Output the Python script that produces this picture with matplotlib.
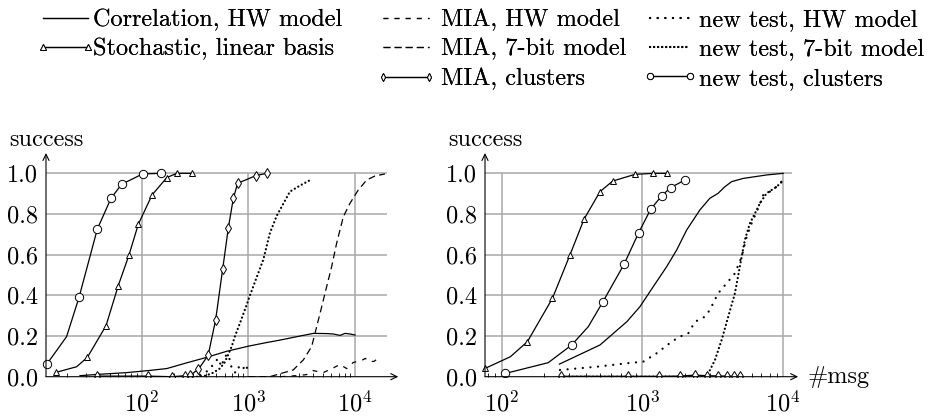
import numpy as np
import matplotlib
matplotlib.use('Agg')
import matplotlib.pyplot as plt
from matplotlib.lines import Line2D
from matplotlib.legend_handler import HandlerLine2D
from matplotlib.ticker import LogLocator, NullFormatter, LogFormatterMathtext

plt.rcParams['font.family'] = ['cmr10', 'DejaVu Serif']
plt.rcParams['mathtext.fontset'] = 'cm'
plt.rcParams['axes.formatter.use_mathtext'] = True
plt.rcParams['lines.scale_dashes'] = False

FS = 17.5

# ---------------- data: left panel ----------------
L_corr_x = [26.4, 40.7, 72.2, 115, 172, 264, 406, 627, 1000, 1486, 1982, 2455, 3050,
            4064, 5420, 6264, 7230, 8060, 8980, 10000]
L_corr_y = [0.005, 0.012, 0.02, 0.03, 0.04, 0.068, 0.095, 0.125, 0.15, 0.168, 0.18, 0.19,
            0.2, 0.213, 0.212, 0.21, 0.203, 0.213, 0.21, 0.205]

L_stoch_x = [15.7, 24.6, 31.0, 46.4, 60.4, 76.1, 93.0, 125, 172, 213, 299]
L_stoch_y = [0.021, 0.049, 0.095, 0.251, 0.448, 0.598, 0.749, 0.893, 0.979, 1.0, 1.0]
L_stoch_mk = [0, 2, 3, 4, 5, 6, 7, 8, 9, 10]

L_miahw_x = [2000, 2800, 3500, 4050, 5030, 5800, 7230, 8340, 9620, 11530, 12500, 13500,
             15000, 16500, 17500]
L_miahw_y = [0.0, 0.005, 0.01, 0.03, 0.02, 0.035, 0.06, 0.04, 0.07, 0.08, 0.09, 0.075,
             0.075, 0.09, 0.08]

L_mia7_x = [1000, 1585, 2630, 3270, 3920, 4370, 4870, 5420, 6030, 6720, 7770, 8950,
            10720, 12840, 15380, 19060]
L_mia7_y = [0.0, 0.0, 0.033, 0.082, 0.148, 0.246, 0.344, 0.443, 0.54, 0.656, 0.787,
            0.852, 0.918, 0.967, 0.987, 0.997]

L_miacl_x = [38, 114, 191, 255, 285, 340, 420, 494, 575, 649, 723, 794, 1180, 1486]
L_miacl_y = [0.003, 0.003, 0.0, 0.005, 0.008, 0.036, 0.105, 0.28, 0.53, 0.73, 0.877,
             0.951, 0.989, 1.0]

L_nthw_x = [300, 360, 420, 470, 520, 560, 600, 650, 700, 750, 800, 870, 950, 1000]
L_nthw_y = [0.0, 0.01, 0.03, 0.06, 0.09, 0.05, 0.1, 0.11, 0.04, 0.02, 0.05, 0.03, 0.06, 0.02]

L_nt7_x = [330, 400, 470, 540, 600, 650, 700, 750, 830, 930, 1035, 1200, 1380, 1590,
           1840, 2125, 2450, 3050, 3900]
L_nt7_y = [0.0, 0.005, 0.02, 0.04, 0.07, 0.11, 0.15, 0.2, 0.26, 0.33, 0.4, 0.49, 0.575,
           0.705, 0.79, 0.85, 0.91, 0.94, 0.97]

L_ntcl_x = [12.9, 19.8, 25.9, 38.4, 51.6, 64.9, 102, 152]
L_ntcl_y = [0.061, 0.197, 0.39, 0.725, 0.877, 0.946, 0.997, 1.0]
L_ntcl_mk = [0, 2, 3, 4, 5, 6, 7]

# ---------------- data: right panel ----------------
R_corr_x = [257, 499, 773, 959, 1194, 1486, 1750, 2060, 2560, 3010, 3450, 3850, 4300,
            5200, 7620, 10000]
R_corr_y = [0.062, 0.156, 0.27, 0.344, 0.443, 0.541, 0.623, 0.721, 0.82, 0.877, 0.902,
            0.934, 0.959, 0.975, 0.992, 1.0]

R_stoch_x = [76.2, 115, 152, 229, 305, 384, 499, 614, 885, 1194, 1500]
R_stoch_y = [0.041, 0.098, 0.172, 0.385, 0.598, 0.774, 0.91, 0.962, 0.995, 1.0, 1.0]
R_stoch_mk = [0, 2, 3, 4, 5, 6, 7, 8, 9, 10]

R_miacl_x = [262, 793, 1315, 1845, 2360, 2857, 3420, 3960, 4490, 4920]
R_miacl_y = [0.002, 0.002, 0.002, 0.003, 0.008, 0.005, 0.004, 0.003, 0.002, 0.002]

R_nthw_x = [259, 473, 773, 1014, 1260, 1610, 1845, 2115, 2360, 2780, 3010, 3450, 3960,
            4540, 5070, 5500, 5970, 6640, 7210, 8490, 9720]
R_nthw_y = [0.033, 0.049, 0.066, 0.074, 0.115, 0.172, 0.197, 0.213, 0.27, 0.295, 0.328,
            0.41, 0.459, 0.508, 0.59, 0.688, 0.754, 0.828, 0.893, 0.918, 0.959]

R_nt7_x = [262, 1000, 2857, 3275, 3650, 4070, 4540, 4920, 5340, 5800, 6300, 6830, 7620,
           8980, 10000]
R_nt7_y = [0.0, 0.0, 0.0, 0.082, 0.18, 0.295, 0.41, 0.541, 0.672, 0.754, 0.803, 0.852,
           0.902, 0.934, 0.964]

R_ntcl_x = [106, 214, 314, 412, 521, 739, 940, 1143, 1368, 1585, 2004]
R_ntcl_y = [0.016, 0.069, 0.156, 0.246, 0.366, 0.552, 0.708, 0.823, 0.889, 0.93, 0.967]
R_ntcl_mk = [0, 2, 4, 5, 6, 7, 8, 9, 10]

x_ticks = [1e2, 1e3, 1e4]
y_ticks = [0.0, 0.2, 0.4, 0.6, 0.8, 1.0]
y_ticklabels = ['0.0', '0.2', '0.4', '0.6', '0.8', '1.0']

labels = ['Correlation, HW model', 'Stochastic, linear basis',
          'MIA, HW model', 'MIA, 7-bit model', 'MIA, clusters',
          'new test, HW model', 'new test, 7-bit model', 'new test, clusters']

# ---------------- styles ----------------
LW = 0.9
GRID = '#a8a8a8'
st = {
    'corr': dict(color='black', lw=LW, ls='-'),
    'stoch': dict(color='black', lw=LW, ls='-', marker='^', ms=4.2, mfc='white',
                  mec='black', mew=0.7),
    'miahw': dict(color='black', lw=LW, ls=(0, (3.5, 4.5))),
    'mia7': dict(color='black', lw=LW, ls=(0, (5.0, 3.0))),
    'miacl': dict(color='black', lw=LW, ls='-', marker='d', ms=5.0, mfc='white',
                  mec='black', mew=0.7),
    'nthw': dict(color='black', lw=1.6, ls=(0, (0.1, 5.4)), dash_capstyle='round'),
    'nt7': dict(color='black', lw=1.6, ls=(0, (0.1, 2.8)), dash_capstyle='round'),
    'ntcl': dict(color='black', lw=LW, ls='-', marker='o', ms=6.0, mfc='white',
                 mec='black', mew=0.7),
}
legend_ms = {'miacl': 4.2, 'ntcl': 4.5}

fig = plt.figure(figsize=(9.3, 4.17), dpi=100)
axL = fig.add_axes([46 / 930, 40.3 / 417, 340.7 / 930, 223.7 / 417])
axR = fig.add_axes([485 / 930, 40.3 / 417, 306.7 / 930, 223.7 / 417])


def setup(ax, xlim, arrow_x):
    ax.set_xscale('log')
    ax.set_xlim(*xlim)
    ax.set_ylim(0, 1.1)
    for s in ax.spines.values():
        s.set_visible(False)
    ax.set_xticks(x_ticks)
    ax.xaxis.set_major_formatter(LogFormatterMathtext())
    ax.xaxis.set_minor_locator(LogLocator(base=10, subs=np.arange(2, 10)))
    ax.xaxis.set_minor_formatter(NullFormatter())
    ax.tick_params(axis='x', which='major', length=0, pad=10.5, labelsize=FS)
    ax.tick_params(axis='x', which='minor', direction='in', length=3, width=0.6)
    ax.set_yticks(y_ticks)
    ax.set_yticklabels(y_ticklabels)
    ax.tick_params(axis='y', which='both', length=0, pad=5.5, labelsize=FS)
    ax.hlines(y_ticks[1:], xlim[0], xlim[1], color=GRID, lw=1.1, zorder=0)
    ax.vlines([t for t in x_ticks if xlim[0] < t < xlim[1]], 0, 1.0, color=GRID,
              lw=1.1, zorder=0)
    ap = dict(arrowstyle='->,head_length=0.45,head_width=0.22', lw=0.8, color='black',
              shrinkA=0, shrinkB=0)
    ax.annotate('', xy=(arrow_x, 0), xytext=(0, 0), xycoords='axes fraction',
                textcoords='axes fraction', arrowprops=ap, annotation_clip=False)
    ax.annotate('', xy=(0, 1), xytext=(0, 0), xycoords='axes fraction',
                textcoords='axes fraction', arrowprops=ap, annotation_clip=False)
    ax.text(0, 1.031, 'success', transform=ax.transAxes, ha='center',
            va='baseline', fontsize=FS)


setup(axL, (12.7, 19800), 1.034)
setup(axR, (76, 11500), 1.021)

# left panel
axL.plot(L_miahw_x, L_miahw_y, **st['miahw'])
axL.plot(L_mia7_x, L_mia7_y, **st['mia7'])
axL.plot(L_nthw_x, L_nthw_y, **st['nthw'])
axL.plot(L_nt7_x, L_nt7_y, **st['nt7'])
axL.plot(L_corr_x, L_corr_y, **st['corr'])
axL.plot(L_miacl_x, L_miacl_y, **st['miacl'])
axL.plot(L_stoch_x, L_stoch_y, markevery=L_stoch_mk, **st['stoch'])
axL.plot(L_ntcl_x, L_ntcl_y, markevery=L_ntcl_mk, clip_on=False, **st['ntcl'])

# right panel
axR.plot(R_nthw_x, R_nthw_y, **st['nthw'])
axR.plot(R_nt7_x, R_nt7_y, **st['nt7'])
axR.plot(R_corr_x, R_corr_y, **st['corr'])
axR.plot(R_miacl_x, R_miacl_y, **st['miacl'])
axR.plot(R_stoch_x, R_stoch_y, markevery=R_stoch_mk, clip_on=False, **st['stoch'])
axR.plot(R_ntcl_x, R_ntcl_y, markevery=R_ntcl_mk, **st['ntcl'])
axR.text(1.053, 0, '#msg', transform=axR.transAxes, ha='left', va='center',
         fontsize=FS)

# legend: three columns
keys = ['corr', 'stoch', 'miahw', 'mia7', 'miacl', 'nthw', 'nt7', 'ntcl']
handles = {}
for k in keys:
    kw = dict(st[k])
    if k in legend_ms:
        kw['ms'] = legend_ms[k]
    handles[k] = Line2D([], [], **kw)
hmap = {Line2D: HandlerLine2D(marker_pad=0, numpoints=2)}
top = 1 - 9 / 417
cols = [
    (['corr', 'stoch'], [labels[0], labels[1]], 43, 1.85, 0.22),
    (['miahw', 'mia7', 'miacl'], [labels[2], labels[3], labels[4]], 383, 1.9, 0.5),
    (['nthw', 'nt7', 'ntcl'], [labels[5], labels[6], labels[7]], 650, 1.65, 0.35),
]
for ks, labs, xpx, hl, tp in cols:
    leg = fig.legend([handles[k] for k in ks], labs, loc='upper left',
                     bbox_to_anchor=(xpx / 930, top), bbox_transform=fig.transFigure,
                     frameon=False, borderpad=0, borderaxespad=0, handlelength=hl,
                     handletextpad=tp, labelspacing=0.3, fontsize=FS, handler_map=hmap)
    fig.add_artist(leg)

fig.savefig('out.png', dpi=100)
